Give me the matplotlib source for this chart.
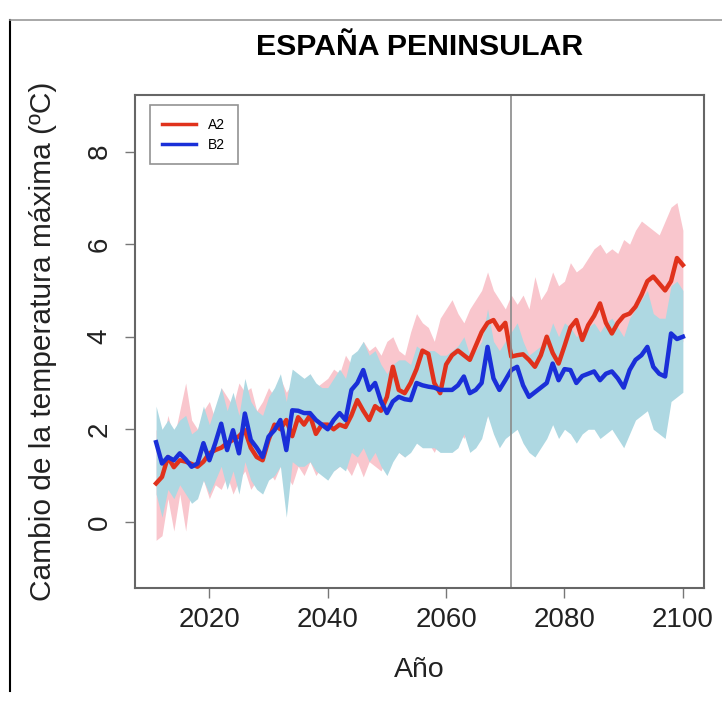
import numpy as np
import matplotlib
matplotlib.use("Agg")
import matplotlib.pyplot as plt
from matplotlib.lines import Line2D

plt.rcParams['font.family'] = ['Liberation Sans', 'DejaVu Sans']

# years of the projection
years = np.arange(2011, 2101)

# A2 scenario: ensemble mean and spread (ºC)
a2_mean = [0.83, 0.97, 1.4, 1.18, 1.33, 1.3, 1.25, 1.19, 1.3, 1.48,
           1.55, 1.6, 1.7, 1.77, 1.85, 1.98, 1.6, 1.4, 1.33, 1.77,
           2.1, 2.0, 2.2, 1.85, 2.26, 2.1, 2.3, 1.9, 2.1, 2.1,
           2.0, 2.1, 2.05, 2.3, 2.63, 2.4, 2.2, 2.5, 2.4, 2.7,
           3.35, 2.85, 2.78, 3.0, 3.3, 3.7, 3.63, 3.0, 2.78, 3.4,
           3.6, 3.7, 3.6, 3.5, 3.8, 4.1, 4.3, 4.36, 4.15, 4.3,
           3.57, 3.6, 3.62, 3.5, 3.35, 3.6, 4.0, 3.65, 3.42, 3.8,
           4.2, 4.36, 3.93, 4.25, 4.45, 4.72, 4.3, 4.07, 4.3, 4.45,
           4.5, 4.65, 4.9, 5.2, 5.3, 5.15, 5.0, 5.2, 5.7, 5.55]
a2_lo = [-0.4, -0.3, 0.5, -0.2, 0.6, -0.2, 0.8, 0.6, 0.9, 0.5,
         0.8, 0.7, 1.0, 0.6, 0.9, 1.1, 0.7, 0.9, 1.0, 1.1,
         0.9, 1.2, 1.0, 0.8, 1.2, 1.0, 1.3, 1.0, 1.2, 1.3,
         1.1, 1.2, 1.2, 1.0, 1.3, 0.97, 1.3, 1.2, 1.1, 1.4,
         1.9, 1.5, 1.4, 1.6, 2.1, 1.8, 1.7, 1.5, 1.8, 2.0,
         1.6, 2.0, 1.8, 2.1, 2.2, 1.9, 2.3, 2.1, 2.0, 2.3,
         2.2, 2.0, 2.4, 2.1, 2.3, 2.5, 2.2, 2.6, 2.4, 2.5,
         2.7, 2.5, 2.8, 2.6, 2.9, 3.0, 2.7, 3.1, 2.9, 3.0,
         3.2, 3.0, 3.4, 3.2, 3.5, 3.3, 3.6, 3.8, 3.7, 3.9]
a2_hi = [2.0, 1.6, 2.3, 1.8, 2.4, 3.0, 2.2, 2.0, 2.4, 2.6,
         2.2, 2.9, 2.7, 2.5, 3.0, 2.8, 2.9, 2.4, 2.6, 2.9,
         2.7, 3.1, 2.8, 3.0, 2.9, 2.8, 3.2, 2.9, 3.0, 3.1,
         3.3, 3.2, 3.6, 3.4, 3.5, 3.9, 3.7, 3.8, 3.6, 3.9,
         4.0, 3.7, 3.6, 4.1, 4.5, 4.3, 4.2, 3.9, 4.4, 4.6,
         4.8, 4.5, 4.3, 4.6, 4.8, 5.0, 5.4, 5.0, 4.8, 4.6,
         4.9, 4.7, 4.9, 4.6, 5.3, 4.8, 5.0, 5.4, 5.1, 5.2,
         5.6, 5.4, 5.5, 5.7, 5.9, 6.0, 5.8, 5.9, 5.8, 6.1,
         6.0, 6.3, 6.5, 6.4, 6.3, 6.2, 6.5, 6.8, 6.9, 6.3]

# B2 scenario: ensemble mean and spread (ºC)
b2_mean = [1.72, 1.26, 1.4, 1.33, 1.48, 1.35, 1.19, 1.26, 1.7, 1.33,
           1.7, 2.12, 1.55, 1.98, 1.48, 2.34, 1.77, 1.6, 1.4, 1.84,
           1.98, 2.2, 1.55, 2.41, 2.4, 2.35, 2.35, 2.2, 2.1, 2.0,
           2.2, 2.35, 2.2, 2.85, 3.0, 3.28, 2.85, 3.0, 2.6, 2.35,
           2.6, 2.7, 2.65, 2.63, 3.0, 2.95, 2.92, 2.9, 2.85, 2.85,
           2.85, 2.95, 3.14, 2.78, 2.85, 3.0, 3.78, 3.1, 2.85, 3.06,
           3.28, 3.35, 2.95, 2.7, 2.8, 2.9, 3.0, 3.42, 3.06, 3.3,
           3.28, 3.0, 3.15, 3.2, 3.25, 3.06, 3.2, 3.25, 3.1, 2.9,
           3.28, 3.5, 3.6, 3.78, 3.35, 3.2, 3.14, 4.07, 3.95, 4.0]
b2_lo = [0.6, 0.1, 0.7, 0.5, 0.8, 0.6, 0.4, 0.5, 0.9, 0.6,
         0.9, 1.2, 0.7, 1.1, 0.6, 1.3, 0.9, 0.7, 0.6, 0.9,
         1.0, 1.2, 0.1, 1.3, 1.2, 1.2, 1.3, 1.1, 1.0, 0.9,
         1.1, 1.2, 1.1, 1.5, 1.4, 1.6, 1.3, 1.5, 1.2, 1.0,
         1.3, 1.5, 1.4, 1.5, 1.7, 1.6, 1.6, 1.6, 1.5, 1.5,
         1.5, 1.6, 1.9, 1.5, 1.6, 1.8, 2.3, 1.9, 1.6, 1.8,
         1.9, 2.0, 1.7, 1.5, 1.4, 1.6, 1.8, 2.1, 1.8, 2.0,
         1.9, 1.7, 1.9, 2.0, 2.0, 1.8, 1.9, 2.0, 1.8, 1.6,
         1.9, 2.2, 2.3, 2.4, 2.0, 1.9, 1.8, 2.6, 2.7, 2.8]
b2_hi = [2.5, 2.0, 2.2, 2.0, 2.2, 2.3, 1.9, 2.0, 2.5, 2.1,
         2.5, 2.9, 2.4, 2.8, 2.3, 3.1, 2.6, 2.4, 2.3, 2.7,
         2.9, 3.2, 2.6, 3.3, 3.2, 3.1, 3.2, 3.0, 2.9, 2.9,
         3.1, 3.3, 3.1, 3.6, 3.7, 3.9, 3.6, 3.7, 3.4, 3.2,
         3.4, 3.5, 3.5, 3.4, 3.8, 3.7, 3.7, 3.7, 3.6, 3.6,
         3.7, 3.8, 4.0, 3.6, 3.7, 3.9, 4.6, 3.9, 3.7, 3.9,
         4.1, 4.3, 3.9, 3.6, 3.7, 3.8, 3.9, 4.3, 4.0, 4.3,
         4.2, 4.0, 4.1, 4.2, 4.3, 4.1, 4.3, 4.4, 4.2, 4.0,
         4.4, 4.6, 4.8, 5.0, 4.5, 4.4, 4.4, 5.1, 5.2, 5.0]

split_year = 2071

fig = plt.figure(figsize=(7.22, 7.05), dpi=100)
ax = fig.add_axes([0.187, 0.166, 0.788, 0.699])

ax.fill_between(years, a2_lo, a2_hi, color='#f9c6cd', lw=0)
ax.fill_between(years, b2_lo, b2_hi, color='#aed8e2', lw=0)
ax.plot(years, a2_mean, color='#e0321c', lw=3.2, label='A2')
ax.plot(years, b2_mean, color='#1a2fd8', lw=3.2, label='B2')
ax.axvline(split_year, color='#8a8a8a', lw=1.2)

ax.set_xlim(2007.44, 2103.56)
ax.set_ylim(-1.43, 9.22)
ax.set_xticks([2020, 2040, 2060, 2080, 2100])
ax.set_yticks([0, 2, 4, 6, 8])
ax.tick_params(axis='both', length=7, width=1, color='#777777',
               labelsize=20, labelcolor='#222222')
ax.tick_params(axis='x', pad=7)
ax.tick_params(axis='y', pad=9)
for lab in ax.get_yticklabels():
    lab.set_rotation(90)
    lab.set_va('center')
for sp in ax.spines.values():
    sp.set_color('#666666')
    sp.set_linewidth(1.5)

ax.set_xlabel('Año', fontsize=20.5, color='#222222')
ax.set_ylabel('Cambio de la temperatura máxima (ºC)', fontsize=21.5, color='#222222')
ax.xaxis.set_label_coords(0.5, -0.14)
ax.yaxis.set_label_coords(-0.138, 0.5)
ax.set_title('ESPAÑA PENINSULAR', fontsize=21.8, fontweight='bold', pad=29)

leg = ax.legend(loc='upper left', bbox_to_anchor=(0.026, 0.98), borderaxespad=0,
                fancybox=False, edgecolor='#777777', fontsize=10,
                handlelength=2.4, handletextpad=0.9, borderpad=0.9,
                labelspacing=0.45)
leg.get_frame().set_linewidth(1.2)
for h in leg.get_lines():
    h.set_linewidth(2.5)

# screenshot border at left and top
fig.add_artist(Line2D([10 / 722, 10 / 722], [1 - 20 / 705, 0.02], color='black', lw=1.5))
fig.add_artist(Line2D([10 / 722, 1.0], [1 - 20 / 705, 1 - 20 / 705], color='#999999', lw=1.2))

fig.savefig('out.png', dpi=100)
